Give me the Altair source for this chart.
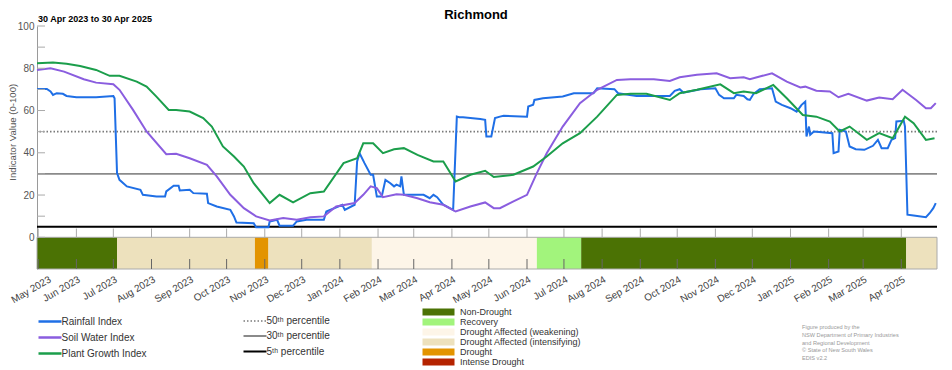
import altair as alt
import pandas as pd

BASE = pd.Timestamp("2023-04-30")

# ---- series values (day offset from 30 Apr 2023, value) ----
rain_days = [0, 8, 11, 13, 16, 21, 24, 32, 48, 62, 63, 65, 67, 73, 84, 86, 97, 104, 105, 111, 115, 116, 124, 127,
             138, 139, 146, 157, 160, 162, 176, 178, 188, 189, 195, 197, 208, 211, 219, 233, 235, 248, 250, 258,
             260, 262, 266, 271, 273, 276, 280, 283, 287, 290, 292, 295, 296, 298, 314, 319, 322, 325, 330, 338,
             341, 343, 346, 360, 364, 365, 369, 372, 376, 379, 398, 399, 403, 404, 411, 427, 436, 452, 455, 469,
             472, 487, 514, 518, 522, 525, 539, 551, 554, 558, 566, 568, 574, 577, 579, 582, 587, 597, 600, 605,
             612, 617, 621, 624, 625, 627, 628, 631, 646, 647, 651, 652, 657, 660, 665, 672, 679, 683, 686, 691,
             694, 697, 698, 704, 705, 707, 712, 722, 725, 728, 730]
rain_vals = [70.2, 70.2, 69.0, 67.4, 68.2, 67.9, 66.9, 66.3, 66.3, 66.9, 65.8, 30.4, 27.2, 24.1, 22.5, 20.1, 19.3,
             19.3, 21.7, 24.4, 24.4, 22.2, 22.5, 20.9, 20.6, 16.2, 14.6, 13.0, 9.9, 7.0, 6.7, 4.8, 4.8, 7.5, 8.3,
             5.5, 5.5, 7.5, 8.3, 8.3, 12.2, 15.4, 13.0, 15.4, 35.9, 39.8, 35.1, 29.6, 29.6, 19.3, 19.3, 27.2, 25.6,
             24.1, 24.9, 24.1, 28.8, 20.1, 20.1, 18.5, 20.1, 19.0, 15.4, 13.0, 57.1, 56.8, 56.8, 56.0, 55.6, 47.7,
             47.7, 56.4, 57.1, 57.5, 57.1, 61.9, 62.7, 65.0, 65.8, 66.6, 68.2, 68.2, 70.5, 70.1, 68.2, 66.9, 66.9,
             69.3, 70.1, 68.5, 70.1, 70.5, 67.4, 65.8, 65.8, 67.4, 66.9, 65.3, 65.0, 67.9, 70.1, 70.5, 64.2, 62.7,
             61.1, 59.5, 62.7, 64.2, 47.7, 52.4, 48.5, 50.1, 49.3, 39.8, 40.6, 50.9, 50.1, 43.0, 41.7, 41.4, 43.3,
             46.1, 42.2, 42.2, 46.1, 46.9, 54.8, 55.1, 52.4, 10.7, 10.3, 9.5, 11.4, 13.8, 16.2]

soil_days = [0, 11, 22, 38, 48, 62, 67, 78, 89, 105, 113, 124, 138, 146, 157, 168, 178, 189, 200, 211, 222, 233,
             243, 258, 265, 271, 276, 281, 292, 298, 309, 319, 330, 340, 352, 364, 371, 376, 387, 398, 406, 414,
             427, 441, 455, 471, 482, 501, 514, 522, 536, 552, 563, 574, 579, 587, 597, 609, 620, 624, 633, 644,
             651, 659, 674, 684, 695, 703, 714, 722, 726, 730]
soil_vals = [79.2, 80.0, 78.4, 74.8, 73.2, 72.4, 69.8, 60.3, 50.1, 39.3, 39.5, 37.4, 34.3, 28.8, 20.1, 13.8, 9.9,
             8.0, 9.1, 8.3, 9.5, 9.9, 14.6, 16.2, 20.1, 24.1, 23.3, 19.0, 20.4, 20.1, 18.5, 16.6, 15.4, 12.2, 14.6,
             16.5, 13.8, 13.8, 17.0, 20.1, 30.4, 39.8, 52.4, 63.5, 69.8, 74.5, 74.8, 74.8, 74.0, 75.7, 76.9, 77.6,
             75.3, 75.7, 74.8, 76.1, 77.6, 73.7, 70.9, 71.3, 69.4, 69.0, 66.3, 67.9, 64.7, 66.1, 65.3, 69.8, 65.0,
             61.1, 61.1, 63.5]

plant_days = [0, 13, 24, 35, 48, 59, 67, 81, 89, 97, 107, 113, 124, 135, 142, 151, 160, 168, 176, 189, 197, 208,
              222, 233, 249, 260, 265, 273, 281, 290, 298, 309, 322, 330, 340, 352, 364, 371, 387, 403, 414, 427,
              441, 455, 471, 482, 495, 514, 522, 536, 555, 566, 574, 584, 598, 609, 622, 633, 644, 652, 660, 674,
              684, 695, 705, 712, 722, 729]
plant_vals = [82.4, 82.7, 82.1, 81.1, 79.2, 76.4, 76.4, 73.7, 71.3, 66.6, 60.3, 60.3, 59.5, 56.4, 52.4, 43.0, 38.2,
              33.5, 25.6, 16.2, 20.1, 16.5, 20.9, 21.7, 35.1, 37.4, 44.5, 44.5, 39.8, 41.7, 42.2, 39.0, 35.9, 35.9,
              26.4, 29.6, 31.5, 28.5, 29.6, 33.5, 38.2, 44.5, 49.3, 57.1, 67.4, 67.9, 67.9, 65.0, 68.2, 69.8, 72.4,
              68.2, 69.0, 68.2, 72.1, 65.8, 57.9, 57.1, 54.8, 50.1, 52.4, 46.1, 49.3, 46.9, 57.1, 54.0, 46.1, 46.9]

series_names = ["Rainfall Index", "Soil Water Index", "Plant Growth Index"]
series_colors = ["#1f6fe6", "#8a5ddf", "#1b9e4b"]

pct_labels = ["50\u1d57\u02b0 percentile", "30\u1d57\u02b0 percentile", "5\u1d57\u02b0 percentile"]
pct_values = [50, 30, 5]

stage_names = ["Non-Drought", "Recovery", "Drought Affected (weakening)",
               "Drought Affected (intensifying)", "Drought", "Intense Drought"]
stage_colors = ["#4b7204", "#a2f47c", "#fdf5e8", "#ede1bd", "#e39400", "#b52300"]
seg_start = [0, 65, 177, 188, 272, 406, 442, 706]
seg_end = [65, 177, 188, 272, 406, 442, 706, 731]
seg_stage = ["Non-Drought", "Drought Affected (intensifying)", "Drought", "Drought Affected (intensifying)",
             "Drought Affected (weakening)", "Recovery", "Non-Drought", "Drought Affected (intensifying)"]

y_ticks = list(range(0, 101, 10))
title_text = "Richmond"
period_text = "30 Apr 2023 to 30 Apr 2025"
footer = "Figure produced by the\nNSW Department of Primary Industries\nand Regional Development\n\u00a9 State of New South Wales\nEDIS v2.2"


def iso(d):
    return (BASE + pd.Timedelta(days=d)).strftime("%Y-%m-%d")


rows = []
for name, days, vals in [("Rainfall Index", rain_days, rain_vals),
                         ("Soil Water Index", soil_days, soil_vals),
                         ("Plant Growth Index", plant_days, plant_vals)]:
    for d, v in zip(days, vals):
        rows.append({"series": name, "date": iso(d), "value": v})
lines_df = pd.DataFrame(rows)
pct_df = pd.DataFrame({"label": pct_labels, "value": pct_values})
seg_df = pd.DataFrame({"start": [iso(d) for d in seg_start], "end": [iso(d) for d in seg_end], "stage": seg_stage})
months = pd.date_range("2023-05-01", "2025-04-01", freq="MS")
month_df = pd.DataFrame({"m": [m.strftime("%Y-%m-%d") for m in months]})
month_vals = [alt.DateTime(year=m.year, month=m.month, date=1, utc=True) for m in months]
yt_df = pd.DataFrame({"v": y_ticks})
one_df = pd.DataFrame({"k": [0]})

d0 = alt.DateTime(year=2023, month=4, date=30, utc=True)
d1 = alt.DateTime(year=2025, month=4, date=30, utc=True)
xscale = alt.Scale(type="utc", domain=[d0, d1])
yscale = alt.Scale(domain=[-15, 100], nice=False, zero=False)
W, H = 900, 243
H0 = 211.5  # pixel row of value 0
FONT = "Liberation Sans"

yaxis = alt.Axis(values=y_ticks, ticks=False, domainColor="#9a9a9a", labelColor="#555", labelFontSize=10,
                 labelPadding=3, grid=False, title="Indicator Value (0-100)", titleFontSize=9.6,
                 titleFontWeight="normal", titleColor="#555", titlePadding=0, titleY=105.75)
xaxis = alt.Axis(values=month_vals, format="%b %Y", labelAngle=330, ticks=False, domain=False,
                 grid=False, labelFontSize=10, labelColor="#444", labelPadding=5, title=None,
                 labelOverlap=False, labelBound=False, labelFlush=False,
                 labelOffset={"condition": {"test": "datum.index == 0", "value": 9}, "value": 0})

pct_leg = alt.Legend(title=None, orient="none", legendX=211.5, legendY=289, symbolType="M-2.3,0H2.3",
                     symbolSize=100, labelFontSize=10, labelColor="#333", labelOffset=5, rowPadding=4,
                     labelLimit=200)

# drought stage band (below 0)
bars = alt.Chart(seg_df).mark_rect().encode(
    x=alt.X("start:T", scale=xscale, axis=xaxis),
    x2="end:T",
    y=alt.datum(0, scale=yscale),
    y2=alt.datum(-15),
    color=alt.Color("stage:N", scale=alt.Scale(domain=stage_names, range=stage_colors),
                    legend=alt.Legend(title=None, orient="none", legendX=397, legendY=281.5,
                                      symbolType="M-4,-0.875H4V0.875H-4Z", symbolSize=64,
                                      symbolStrokeWidth=0, labelFontSize=9, labelColor="#333",
                                      labelOffset=17, rowPadding=-2.3, labelLimit=250)),
)
band_border = alt.Chart(one_df).mark_rect(fill="transparent", stroke="#aaaaaa", strokeWidth=1).encode(
    x=alt.X(datum=d0, axis=xaxis), x2=alt.datum(d1), y=alt.datum(0), y2=alt.datum(-15))

rules = alt.Chart(pct_df).mark_rule().encode(
    y=alt.Y("value:Q", scale=yscale, axis=yaxis),
    stroke=alt.Stroke("label:N", scale=alt.Scale(domain=pct_labels, range=["#7a7a7a", "#8a8a8a", "#000000"]),
                      legend=pct_leg),
    strokeDash=alt.StrokeDash("label:N", scale=alt.Scale(domain=pct_labels, range=[[1.5, 2], [1, 0], [1, 0]]),
                              legend=pct_leg),
    strokeWidth=alt.StrokeWidth("label:N", scale=alt.Scale(domain=pct_labels, range=[1.6, 2.2, 2.6]),
                                legend=pct_leg),
)

lines = alt.Chart(lines_df).mark_line(strokeWidth=2).encode(
    x=alt.X("date:T", scale=xscale, axis=xaxis),
    y=alt.Y("value:Q", scale=yscale, axis=yaxis),
    color=alt.Color("series:N", scale=alt.Scale(domain=series_names, range=series_colors),
                    legend=alt.Legend(title=None, orient="none", legendX=6.5, legendY=289,
                                      symbolType="M-2.3,0H2.3", symbolSize=100, symbolStrokeWidth=2.5,
                                      labelFontSize=10, labelColor="#333", labelOffset=5, rowPadding=4,
                                      labelLimit=200)),
    order=alt.Order("date:T"),
)

ytick_marks = alt.Chart(yt_df).mark_rule(color="#aaaaaa", strokeWidth=1).encode(
    y=alt.Y("v:Q", scale=yscale, axis=yaxis), x=alt.value(0), x2=alt.value(8))

mtick_top = alt.Chart(month_df).mark_rule(color="#aaaaaa", strokeWidth=1).encode(
    x=alt.X("m:T", scale=xscale, axis=xaxis), y=alt.value(H0 - 9), y2=alt.value(H0))
mtick_bot = alt.Chart(month_df).mark_rule(color="#666666", strokeWidth=1).encode(
    x=alt.X("m:T", scale=xscale, axis=xaxis), y=alt.value(H - 10), y2=alt.value(H))

head = alt.Chart(pd.DataFrame({"t": [title_text]})).mark_text(
    align="center", baseline="alphabetic", fontSize=13, fontWeight="bold", font=FONT, color="#000").encode(
    text="t:N", x=alt.value(439), y=alt.value(-7.5))

sub = alt.Chart(pd.DataFrame({"t": [period_text]})).mark_text(
    align="left", baseline="alphabetic", fontSize=9, fontWeight="bold", font=FONT, color="#000").encode(
    text="t:N", x=alt.value(1), y=alt.value(-4))

foot = alt.Chart(pd.DataFrame({"t": [footer]})).mark_text(
    align="left", baseline="top", fontSize=5.6, font=FONT, color="#999999", lineBreak="\n",
    lineHeight=7.9).encode(text="t:N", x=alt.value(765), y=alt.value(H0 + 87.3))

chart = alt.layer(bars, band_border, mtick_bot, rules, lines, ytick_marks, mtick_top, head, sub, foot
                  ).resolve_scale(color="independent").properties(
    width=W, height=H,
    autosize=alt.AutoSizeParams(type="none"),
    padding={"left": 29, "top": 18, "right": 7, "bottom": 100},
).configure(font=FONT).configure_view(stroke=None)

chart.save("out.html", embed_options={"renderer": "svg", "actions": False})
